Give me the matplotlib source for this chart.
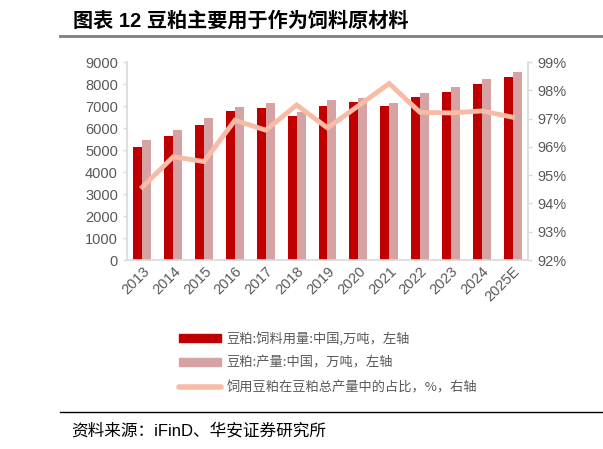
import matplotlib
matplotlib.use("Agg")
import matplotlib.pyplot as plt
import numpy as np
from matplotlib.lines import Line2D
from matplotlib.patches import Patch

plt.rcParams['font.family'] = ['Liberation Sans', 'Noto Sans CJK SC', 'DejaVu Sans']

years = ['2013', '2014', '2015', '2016', '2017', '2018', '2019',
         '2020', '2021', '2022', '2023', '2024', '2025E']
feed_use = [5150, 5650, 6150, 6760, 6890, 6560, 7000, 7180, 7000, 7390, 7620, 8020, 8300]
production = [5450, 5900, 6450, 6960, 7140, 6740, 7260, 7370, 7140, 7600, 7850, 8230, 8560]
feed_share = [94.58, 95.65, 95.48, 96.94, 96.59, 97.48, 96.67, 97.45, 98.24, 97.22, 97.2, 97.27, 97.05]

c_dark = '#C00000'
c_light = '#D6A3A4'
c_line = '#F7BBA6'
c_tick = '#595959'
c_spine = '#D9D9D9'

fig = plt.figure(figsize=(6.03, 4.49), dpi=100)
ax = fig.add_axes([0.2106, 0.4209, 0.665, 0.441])
ax2 = ax.twinx()

x = np.arange(len(years))
w = 0.29
ax.bar(x - w / 2, feed_use, w, color=c_dark, zorder=2)
ax.bar(x + w / 2, production, w, color=c_light, zorder=2)
ax2.plot(x, feed_share, color=c_line, lw=3.5, solid_joinstyle='miter', zorder=3)

ax.set_xlim(-0.5, len(years) - 0.5)
ax.set_ylim(0, 9000)
ax.set_yticks(range(0, 9001, 1000))
ax2.set_ylim(92, 99)
ax2.set_yticks(range(92, 100))
ax2.set_yticklabels([f'{v}%' for v in range(92, 100)])

ax.set_xticks(x)
ax.set_xticklabels(years, rotation=45, ha='right', rotation_mode='anchor')

for a in (ax, ax2):
    for s in a.spines.values():
        s.set_visible(False)
    a.tick_params(colors=c_tick, labelsize=10.5, length=3, width=1, color=c_spine)
ax.spines['bottom'].set_visible(True)
ax.spines['left'].set_visible(True)
ax2.spines['right'].set_visible(True)
for s in (ax.spines['bottom'], ax.spines['left'], ax2.spines['right']):
    s.set_color(c_spine)
    s.set_linewidth(1.2)
ax.tick_params(axis='x', length=0, pad=3)

# title and source
fig.text(0.121, 0.953, '图表 12 豆粕主要用于作为饲料原材料', fontsize=14.5, fontweight='bold',
         va='center', ha='left', family=['Liberation Sans', 'Noto Sans CJK SC'])
fig.add_artist(Line2D([0.1, 1.0], [0.92, 0.92], color='#808080', lw=2))
fig.add_artist(Line2D([0.1, 1.0], [0.082, 0.082], color='black', lw=1))
fig.text(0.118, 0.042, '资料来源：iFinD、华安证券研究所', fontsize=12, va='center', ha='left',
         family=['Liberation Sans', 'Noto Sans CJK SC'])

handles = [Patch(color=c_dark), Patch(color=c_light),
           Line2D([0], [0], color=c_line, lw=4, solid_capstyle='round')]
labels = ['豆粕:饲料用量:中国,万吨，左轴', '豆粕:产量:中国，万吨，左轴',
          '饲用豆粕在豆粕总产量中的占比，%，右轴']
leg = fig.legend(handles, labels, loc='upper left', bbox_to_anchor=(0.277, 0.288),
                 frameon=False, handlelength=3.2, handleheight=0.6,
                 labelspacing=0.85, handletextpad=0.4,
                 prop={'family': ['Noto Sans CJK SC', 'DejaVu Sans'], 'size': 9.5})
for t in leg.get_texts():
    t.set_color(c_tick)

fig.savefig('out.png', dpi=100)
